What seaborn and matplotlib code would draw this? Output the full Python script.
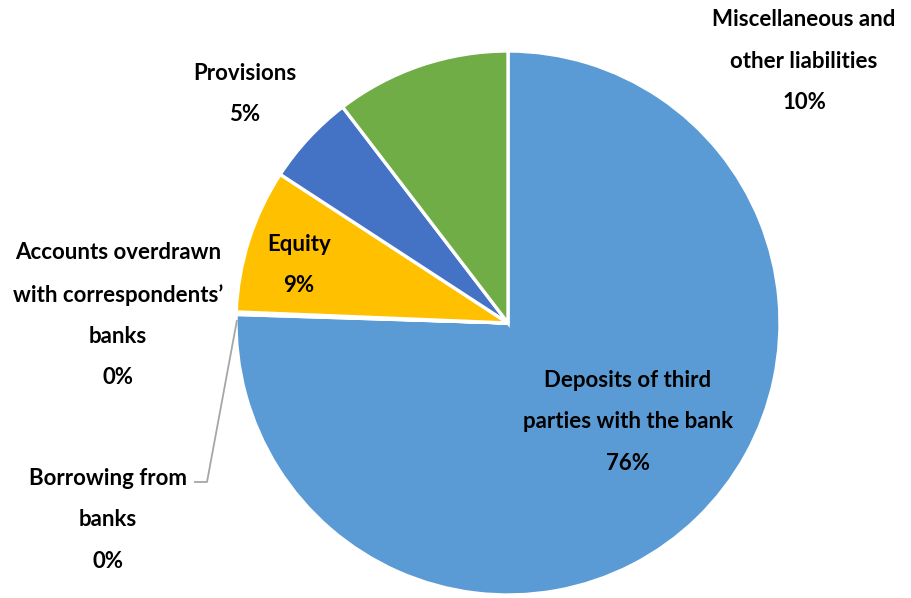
import matplotlib
matplotlib.use("Agg")
import matplotlib.pyplot as plt
import seaborn as sns

# Liabilities breakdown (share of total, %)
categories = [
    "Deposits of third\nparties with the bank",
    "Borrowing from\nbanks",
    "Accounts overdrawn\nwith correspondents’\nbanks",
    "Equity",
    "Provisions",
    "Miscellaneous and\nother liabilities",
]
shares = [75.5, 0.05, 0.1, 8.55, 5.4, 10.4]
colors = ["#5B9BD5", "#ED7D31", "#A5A5A5", "#FFC000", "#4472C4", "#70AD47"]

sns.set_theme(style="white")
plt.rcParams["font.family"] = ["Lato", "DejaVu Sans"]

W, H = 911, 598
fig = plt.figure(figsize=(W / 100, H / 100), dpi=100)
ax = fig.add_axes([0, 0, 1, 1])

cx, cy, r = 508, H - 323, 272
wedges, _ = ax.pie(
    shares,
    colors=colors,
    startangle=90,
    counterclock=False,
    center=(cx, cy),
    radius=r,
    frame=True,
    wedgeprops=dict(edgecolor="white", linewidth=2.4),
)
ax.set_xlim(0, W)
ax.set_ylim(0, H)
ax.set_aspect("equal")
ax.axis("off")

# label block centres (x, y from top)
label_pos = [
    (628, 422),
    (108, 520),
    (118, 315),
    (299, 265),
    (245, 94),
    (804, 61),
]
for name, val, (lx, ly) in zip(categories, shares, label_pos):
    ax.text(
        lx, H - ly, f"{name}\n{round(val)}%",
        ha="center", va="center", fontsize=16, fontweight="bold",
        color="black", linespacing=2.2,
    )

# leader line for the borrowing slice
ax.plot([237, 207, 194], [H - 320, H - 482, H - 482], color="#A6A6A6", lw=1.3,
        solid_capstyle="butt")

fig.savefig("out.png", dpi=100, facecolor="white")
